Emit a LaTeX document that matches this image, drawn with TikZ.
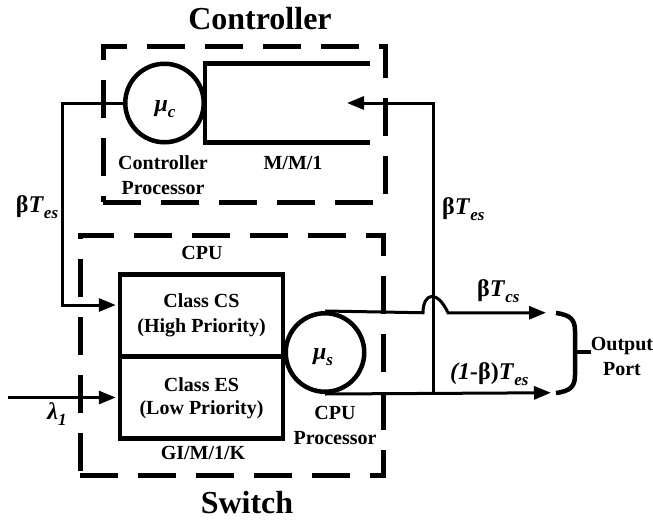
\documentclass[tikz,border=0pt]{standalone}
\usepackage{fontspec}
\setmainfont{Liberation Serif}
\usetikzlibrary{arrows.meta}
\newcommand\mysub[1]{\raisebox{-0.28em}{\fontsize{17}{17}\selectfont\bfseries\itshape #1}}
\begin{document}
\begin{tikzpicture}[x=1pt,y=-1pt,
  thick box/.style={draw, line width=4.5pt, inner sep=0pt},
  qcircle/.style={thick box, circle, minimum size=78.5pt},
  qbox/.style={thick box, rectangle, minimum width=163pt, minimum height=82pt, align=center,
               font=\fontsize{20}{25}\selectfont\bfseries},
  qline/.style={line width=4.5pt},
  dbox/.style={draw, line width=5pt, dash pattern=on 38pt off 20pt, inner sep=0pt},
  lbl/.style={inner sep=0pt, align=center, font=\fontsize{20}{25}\selectfont\bfseries},
  ttl/.style={inner sep=0pt, font=\fontsize{32}{34}\selectfont\bfseries},
  mlbl/.style={inner sep=0pt, font=\fontsize{24}{26}\selectfont\bfseries},
  conn/.style={line width=3pt},
  arr/.style={conn, -{Triangle[length=17pt,width=13pt]}},
]
\useasboundingbox (0,0) rectangle (653,523);

% dashed frames
\node[dbox, minimum width=282pt, minimum height=156pt] (ctrlbox) at (244,124) {};
\node[dbox, minimum width=303pt, minimum height=240pt] (swbox) at (231.5,355) {};

% titles
\node[ttl] (ttlc) at (260,19) {Controller};
\node[ttl] (ttls) at (247,503) {Switch};

% controller queue
\node[qcircle] (mc) at (164.5,103) {};
\node[mlbl] (mcl) at (165,109) {\textit{μ}\mysub{c}};
\draw[qline] (370,63.5) -- (205,63.5) -- (205,142.5) -- (370,142.5);
\node[lbl] (cproc) at (163,175) {Controller\\Processor};
\node[lbl] (mm1) at (293,163) {M/M/1};

% switch queue
\node[lbl] (cpu) at (202,253) {CPU};
\node[qbox] (hp) at (201.5,315.5) {Class CS\\(High Priority)};
\node[qbox] (lp) at (201.5,397.5) {\raisebox{4pt}{\begin{tabular}{@{}c@{}}Class ES\\[-2pt](Low Priority)\end{tabular}}};
\node[lbl] (gim) at (203,453) {GI/M/1/K};
\node[qcircle] (ms) at (325,352.5) {};
\node[mlbl] (msl) at (323,357) {\textit{μ}\mysub{s}};
\node[lbl] (sproc) at (335,425.5) {CPU\\Processor};

% coordinates for free ends
\coordinate (lin) at (8,397.5);
\coordinate (jn) at (433,392.75);
\coordinate (cin) at (347,103);
\coordinate (outA) at (546,312.75);
\coordinate (outB) at (551,392.75);

% connectors
\draw[arr, shorten >=2pt] (mc.west) -| (62,305) -- ([yshift=10.5pt]hp.west);
\draw[arr, shorten >=2pt] (lin) -- (lp.west);
\draw[arr] (jn) |- (cin);
\draw[arr] (ms.north) -- (423,312.75) .. controls (423,293) and (437,289) .. (448,312.75) -- (outA);
\draw[arr] (ms.south) -- (outB);

% labels on connectors
\node[mlbl] (lfb) at (37,207) {β\textit{T}\mysub{es}};
\node[mlbl, anchor=west] (rfb) at (442,209) {β\textit{T}\mysub{es}};
\node[mlbl, anchor=west] (tcs) at (477,291) {β\textit{T}\mysub{cs}};
\node[mlbl, anchor=west] (tes) at (450,374) {\textit{(1-}β)\textit{T}\mysub{es}};
\node[mlbl] (lam) at (57,414) {\textit{λ}\mysub{1}};

% output port brace
\draw[line width=4.5pt] (556,313) .. controls (571,315) and (575,320) .. (575,331) -- (575,375)
  .. controls (575,386) and (571,391) .. (556,393);
\draw[line width=4.5pt] (575,352) -- (591,352);
\node[lbl] (oport) at (622,356) {Output\\Port};
\end{tikzpicture}
\end{document}
